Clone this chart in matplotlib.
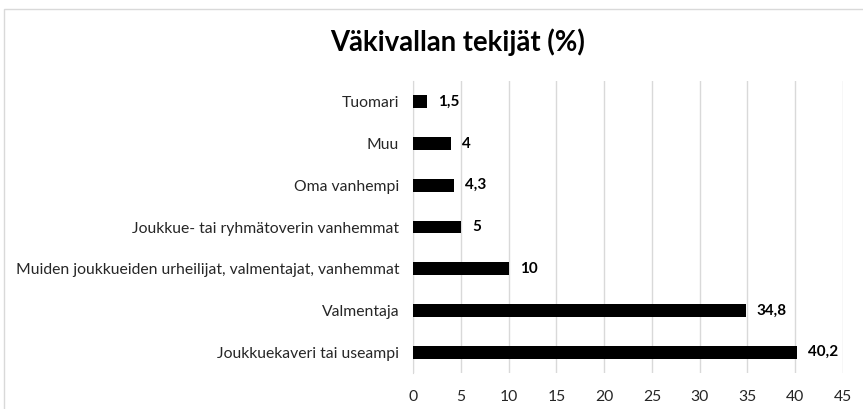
import matplotlib
matplotlib.use("Agg")
import matplotlib.pyplot as plt
from matplotlib.patches import Rectangle

categories = ["Joukkuekaveri tai useampi", "Valmentaja", "Muiden joukkueiden urheilijat, valmentajat, vanhemmat",
              "Joukkue- tai ryhmätoverin vanhemmat", "Oma vanhempi", "Muu", "Tuomari"]
values = [40.2, 34.8, 10, 5, 4.3, 4, 1.5]
value_labels = ["40,2", "34,8", "10", "5", "4,3", "4", "1,5"]
xticks = [0, 5, 10, 15, 20, 25, 30, 35, 40, 45]
title = "Väkivallan tekijät (%)"

plt.rcParams['font.family'] = ['Lato', 'DejaVu Sans']
W, H = 863, 409
fig = plt.figure(figsize=(W/100, H/100), dpi=100)
ax = fig.add_axes([413/W, 1-373/H, 430/W, (373-81)/H])

y = list(range(len(categories)))
ax.barh(y, values, height=0.31, color='black', zorder=3)
for yi, v, lab in zip(y, values, value_labels):
    ax.annotate(lab, (v, yi), xytext=(8, 0), textcoords='offset points', va='center', ha='left',
                fontsize=11, fontweight='bold', color='#000000')
ax.set_xlim(0, 45)
ax.set_ylim(-0.5, len(categories)-0.5)
ax.set_xticks(xticks)
ax.set_yticks(y)
ax.set_yticklabels(categories, fontsize=11.3, color='#262626')
ax.tick_params(axis='x', labelsize=11.3, length=0, pad=12, colors='#262626')
ax.tick_params(axis='y', length=0, pad=10)
ax.grid(axis='x', color='#d9d9d9', linewidth=1, zorder=0)
for s in ['top', 'right', 'bottom']:
    ax.spines[s].set_visible(False)
ax.spines['left'].set_color('#d9d9d9')
ax.spines['left'].set_zorder(1)

fig.text(458/W, 1-42/H, title, ha='center', va='center', fontsize=19.8, fontweight='bold', color='#000000')
fig.patches.append(Rectangle((4/W, -0.1), 1.2, 1.1-9/H, transform=fig.transFigure,
                             fill=False, edgecolor='#d9d9d9', linewidth=1))
fig.savefig("out.png", dpi=100)
